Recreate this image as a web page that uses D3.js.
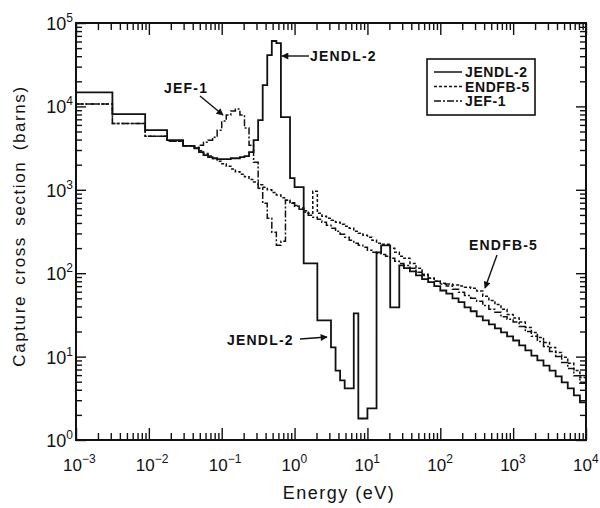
<!DOCTYPE html>
<html>
<head>
<meta charset="utf-8">
<script src="https://cdn.jsdelivr.net/npm/d3@7"></script>
<style>
  body { margin: 0; background: #fff; }
  svg { display: block; }
  text { font-family: "Liberation Sans", Arial, sans-serif; fill: #111; }
</style>
</head>
<body>
<svg id="chart" width="600" height="508"></svg>
<script>
// Energy group boundaries (eV)
const groupEdges = [
  0.001, 0.00316, 0.0089, 0.0178, 0.0295,
  0.0422, 0.0487, 0.0562, 0.0649, 0.0750, 0.0866,
  0.1, 0.1155, 0.1334, 0.154, 0.1778, 0.2054, 0.2371, 0.2738, 0.3162, 0.3652, 0.4217, 0.487, 0.5623, 0.6494, 0.7499, 0.866,
  1.0, 1.155, 1.334, 1.54, 1.778, 2.054, 2.371, 2.738, 3.162, 3.652, 4.217, 4.87, 5.623, 6.494, 7.499, 8.66,
  10, 11.55, 13.34, 15.4, 17.78, 20.54, 23.71, 27.38, 31.62,
  38.3, 46.4, 56.2, 68.1, 82.5,
  100, 121, 147, 178, 215, 261, 316, 383, 464, 562, 681, 825,
  1000, 1210, 1470, 1780, 2150, 2610, 3160, 3830, 4640, 5620, 6810, 8250,
  10000
];

// Group-averaged capture cross sections (barns), one value per group
const jendl2 = [
  14700, 8090, 5200, 3940, 3360,
  3150, 2830, 2600, 2460, 2390, 2330, 2330, 2330, 2390, 2390, 2460, 2530,
  2830, 3940, 6860, 18000, 41300, 60800, 57500, 7450, 7450,
  1380, 1075, 1075,
  131, 131, 131,
  27.2, 27.2, 27.2,
  12.9, 6.8, 5.2, 4.15, 4.15,
  33, 1.81, 1.81, 2.39, 2.39,
  178, 216, 216, 39, 39, 124,
  115, 105, 94, 85, 78, 70, 62, 57, 50, 45, 39, 35, 30.4, 27.2, 24.4,
  21.8, 19.5, 17.5, 15.6, 13.6, 11.9, 10.3, 9.0, 7.8, 6.8, 5.8, 4.9, 4.15, 3.42, 2.82
];

const endfb5 = [
  10700, 6250, 4400, 3830, 3340,
  3160, 2940, 2730, 2540, 2370, 2200, 2050, 1910, 1780, 1650, 1540, 1430, 1330,
  1240, 1150, 1070, 1000, 930, 865, 805, 750, 700, 650, 605, 560, 525,
  960,
  524, 482, 456, 431, 408, 386, 365, 346, 318, 301, 285, 270, 248, 229, 222, 222, 199, 178, 160,
  151, 131, 115, 97, 87, 80, 76, 74, 72, 70, 68, 66, 61, 53, 47,
  42, 37, 32, 29, 26, 22.4, 19.5, 17, 14.8, 12.9, 11.2, 9.8, 8.3, 6.8, 5.6
];

const jef1 = [
  10700, 6250, 4400, 3830, 3340,
  3240, 3430, 3720, 3940, 4280, 5190, 6660, 7870, 8790, 9290,
  7870, 5500, 3430, 2140, 1045, 690, 456, 310, 216, 242,
  750, 690, 635, 585, 538, 495, 469, 444, 408, 376, 346, 318, 293,
  270, 248, 229, 216, 205, 188, 178, 173, 168, 160, 151, 139, 131,
  124, 115, 103, 94, 87, 80, 74, 70, 64, 59, 54, 50, 46, 41, 37,
  34, 30, 28, 26, 23, 20, 17.5, 15.2, 13.2, 11.5, 10, 8.5, 7.2, 5.9, 4.8
];

const seriesNames = ["JENDL-2", "ENDFB-5", "JEF-1"];
const xDecadeExponents = [-3, -2, -1, 0, 1, 2, 3, 4];
const yDecadeExponents = [0, 1, 2, 3, 4, 5];

const svg = d3.select("#chart");
const plot = { left: 76, right: 586, top: 23, bottom: 440 };

const x = d3.scaleLog().domain([1e-3, 1e4]).range([plot.left, plot.right]);
const y = d3.scaleLog().domain([1, 1e5]).range([plot.bottom, plot.top]);

const majorX = xDecadeExponents.map(e => Math.pow(10, e));
const majorY = yDecadeExponents.map(e => Math.pow(10, e));
const minorOf = (exps) => {
  const out = [];
  exps.slice(0, -1).forEach(e => {
    for (let k = 2; k <= 9; k++) out.push(k * Math.pow(10, e));
  });
  return out;
};
const minorX = minorOf(xDecadeExponents);
const minorY = minorOf(yDecadeExponents);

// arrowhead marker
svg.append("defs").append("marker")
  .attr("id", "arrow")
  .attr("viewBox", "0 0 10 10")
  .attr("refX", 9).attr("refY", 5)
  .attr("markerWidth", 9).attr("markerHeight", 7)
  .attr("markerUnits", "userSpaceOnUse")
  .attr("orient", "auto")
  .append("path").attr("d", "M0,0 L10,5 L0,10 z").attr("fill", "#111");

// ticks on all four sides, pointing inward
function drawTicks(axisGen, transform, values, size) {
  const g = svg.append("g")
    .attr("transform", transform)
    .call(axisGen.tickValues(values).tickSize(size).tickFormat(""));
  g.select(".domain").remove();
  g.selectAll(".tick line").attr("stroke", "#111").attr("stroke-width", 1.4);
}
drawTicks(d3.axisBottom(x), `translate(0,${plot.bottom})`, majorX, -12);
drawTicks(d3.axisBottom(x), `translate(0,${plot.bottom})`, minorX, -7);
drawTicks(d3.axisTop(x), `translate(0,${plot.top})`, majorX, -12);
drawTicks(d3.axisTop(x), `translate(0,${plot.top})`, minorX, -7);
drawTicks(d3.axisLeft(y), `translate(${plot.left},0)`, majorY, -10);
drawTicks(d3.axisLeft(y), `translate(${plot.left},0)`, minorY, -6);
drawTicks(d3.axisRight(y), `translate(${plot.right},0)`, majorY, -10);
drawTicks(d3.axisRight(y), `translate(${plot.right},0)`, minorY, -6);

// frame
svg.append("rect")
  .attr("x", plot.left).attr("y", plot.top)
  .attr("width", plot.right - plot.left).attr("height", plot.bottom - plot.top)
  .attr("fill", "none").attr("stroke", "#111").attr("stroke-width", 2);

// decade labels 10^n
function powerLabel(sel, exp) {
  sel.append("tspan").text("10");
  sel.append("tspan").attr("dy", -8).attr("font-size", 12).text(String(exp).replace("-", "\u2212"));
}
xDecadeExponents.forEach(e => {
  const t = svg.append("text")
    .attr("x", x(Math.pow(10, e)) - 13).attr("y", 471)
    .attr("text-anchor", "start").attr("font-size", 17);
  powerLabel(t, e);
});
yDecadeExponents.forEach(e => {
  const t = svg.append("text")
    .attr("x", 73).attr("y", y(Math.pow(10, e)) + 7)
    .attr("text-anchor", "end").attr("font-size", 18);
  powerLabel(t, e);
});

// axis titles
svg.append("text")
  .attr("x", 339).attr("y", 499)
  .attr("text-anchor", "middle").attr("font-size", 18)
  .attr("letter-spacing", 1.5)
  .text("Energy (eV)");
svg.append("text")
  .attr("transform", "translate(25,226) rotate(-90)")
  .attr("text-anchor", "middle").attr("font-size", 17)
  .attr("letter-spacing", 1.6).attr("word-spacing", 4)
  .text("Capture cross section (barns)");

// step curves
const styles = {
  "JENDL-2": { data: jendl2, dash: null, width: 1.8 },
  "ENDFB-5": { data: endfb5, dash: "3,2", width: 1.5 },
  "JEF-1":   { data: jef1,   dash: "7,2,2,2", width: 1.5 }
};
const stepLine = d3.line()
  .x(d => x(d[0]))
  .y(d => y(d[1]))
  .curve(d3.curveStepAfter);

seriesNames.slice().reverse().forEach(name => {
  const s = styles[name];
  const pts = groupEdges.map((e, i) => [e, s.data[Math.min(i, s.data.length - 1)]]);
  svg.append("path")
    .datum(pts)
    .attr("d", stepLine)
    .attr("fill", "none")
    .attr("stroke", "#111")
    .attr("stroke-width", s.width)
    .attr("stroke-dasharray", s.dash);
});

// legend
const lg = svg.append("g");
lg.append("rect")
  .attr("x", 427).attr("y", 59).attr("width", 108).attr("height", 56)
  .attr("fill", "#fff").attr("stroke", "#111").attr("stroke-width", 1.6);
seriesNames.forEach((name, i) => {
  const yy = 72 + i * 14.5;
  lg.append("line")
    .attr("x1", 434).attr("x2", 462).attr("y1", yy).attr("y2", yy)
    .attr("stroke", "#111").attr("stroke-width", 1.5)
    .attr("stroke-dasharray", styles[name].dash);
  lg.append("text")
    .attr("x", 465).attr("y", yy + 5)
    .attr("font-size", 14).attr("font-weight", "bold")
    .attr("letter-spacing", 0.6)
    .text(name);
});

// annotations with arrows
function note(label, tx, ty, x1, y1, x2, y2) {
  svg.append("text")
    .attr("x", tx).attr("y", ty)
    .attr("font-size", 14).attr("font-weight", "bold")
    .attr("letter-spacing", 1.2)
    .text(label);
  svg.append("line")
    .attr("x1", x1).attr("y1", y1).attr("x2", x2).attr("y2", y2)
    .attr("stroke", "#111").attr("stroke-width", 1.4)
    .attr("marker-end", "url(#arrow)");
}
note("JENDL-2", 310, 61, 309, 56, 282, 56);
note("JEF-1", 164, 93, 200, 96, 223, 115);
note("JENDL-2", 227, 345, 300, 339, 327, 337);
note("ENDFB-5", 469, 250, 497, 255, 485, 288);
</script>
</body>
</html>
